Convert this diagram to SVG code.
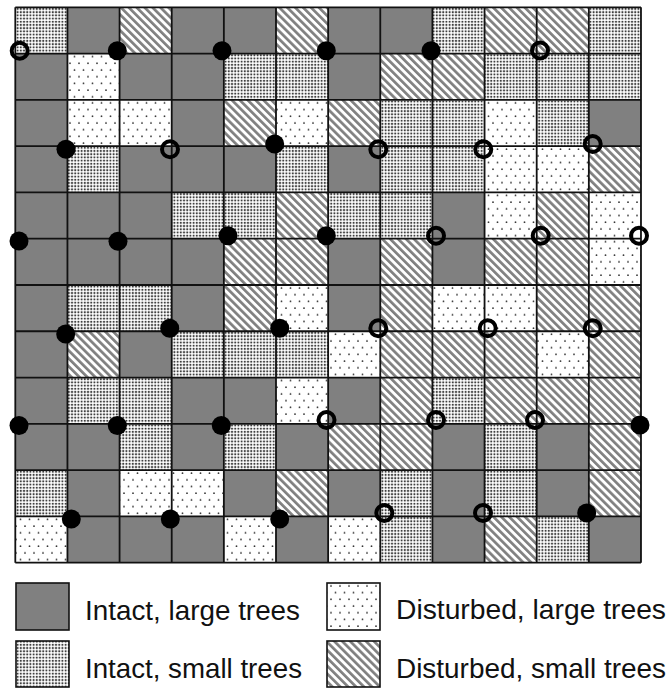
<svg xmlns="http://www.w3.org/2000/svg" width="668" height="689" viewBox="0 0 668 689">
<style>
.g{fill:#808080}
.s{fill:url(#ps)}
.d{fill:url(#pd)}
.h{fill:url(#ph)}
.grid{fill:none;stroke:#111;stroke-width:1.8}
.full{fill:#000}
.ring{fill:none;stroke:#000;stroke-width:4}
.lb{stroke:#111;stroke-width:1.6}
.lt{font-family:"Liberation Sans",Arial,sans-serif;font-size:27.5px;fill:#111}
</style>
<defs>
<pattern id="ps" width="3.2" height="3.2" patternUnits="userSpaceOnUse"><rect width="3.2" height="3.2" fill="#fff"/><circle cx="1.6" cy="1.6" r="1.1" fill="#404040"/></pattern>
<pattern id="pd" width="9" height="13.4" patternUnits="userSpaceOnUse"><rect width="9" height="13.4" fill="#fff"/><circle cx="2.5" cy="3" r="0.9" fill="#333"/><circle cx="7" cy="9.7" r="0.9" fill="#333"/></pattern>
<pattern id="ph" width="5.6" height="10" patternUnits="userSpaceOnUse" patternTransform="rotate(-45)"><rect width="5.6" height="10" fill="#fff"/><rect width="2.7" height="10" fill="#808080"/></pattern>
</defs>
<rect width="668" height="689" fill="#fff"/>
<g id="cells">
<g id="row0" transform="translate(0,7.3)">
<rect class="s" x="15.3" width="52.14" height="46.28"/><rect class="g" x="67.44" width="52.14" height="46.28"/><rect class="h" x="119.58" width="52.14" height="46.28"/><rect class="g" x="171.72" width="52.14" height="46.28"/><rect class="g" x="223.86" width="52.14" height="46.28"/><rect class="h" x="276" width="52.14" height="46.28"/><rect class="g" x="328.14" width="52.14" height="46.28"/><rect class="g" x="380.28" width="52.14" height="46.28"/><rect class="s" x="432.42" width="52.14" height="46.28"/><rect class="h" x="484.56" width="52.14" height="46.28"/><rect class="h" x="536.7" width="52.14" height="46.28"/><rect class="s" x="588.84" width="52.14" height="46.28"/>
</g>
<g id="row1" transform="translate(0,53.58)">
<rect class="g" x="15.3" width="52.14" height="46.28"/><rect class="d" x="67.44" width="52.14" height="46.28"/><rect class="g" x="119.58" width="52.14" height="46.28"/><rect class="g" x="171.72" width="52.14" height="46.28"/><rect class="s" x="223.86" width="52.14" height="46.28"/><rect class="s" x="276" width="52.14" height="46.28"/><rect class="g" x="328.14" width="52.14" height="46.28"/><rect class="h" x="380.28" width="52.14" height="46.28"/><rect class="h" x="432.42" width="52.14" height="46.28"/><rect class="s" x="484.56" width="52.14" height="46.28"/><rect class="s" x="536.7" width="52.14" height="46.28"/><rect class="s" x="588.84" width="52.14" height="46.28"/>
</g>
<g id="row2" transform="translate(0,99.86)">
<rect class="g" x="15.3" width="52.14" height="46.28"/><rect class="d" x="67.44" width="52.14" height="46.28"/><rect class="d" x="119.58" width="52.14" height="46.28"/><rect class="g" x="171.72" width="52.14" height="46.28"/><rect class="h" x="223.86" width="52.14" height="46.28"/><rect class="d" x="276" width="52.14" height="46.28"/><rect class="h" x="328.14" width="52.14" height="46.28"/><rect class="s" x="380.28" width="52.14" height="46.28"/><rect class="s" x="432.42" width="52.14" height="46.28"/><rect class="d" x="484.56" width="52.14" height="46.28"/><rect class="s" x="536.7" width="52.14" height="46.28"/><rect class="g" x="588.84" width="52.14" height="46.28"/>
</g>
<g id="row3" transform="translate(0,146.14)">
<rect class="g" x="15.3" width="52.14" height="46.28"/><rect class="s" x="67.44" width="52.14" height="46.28"/><rect class="g" x="119.58" width="52.14" height="46.28"/><rect class="g" x="171.72" width="52.14" height="46.28"/><rect class="g" x="223.86" width="52.14" height="46.28"/><rect class="s" x="276" width="52.14" height="46.28"/><rect class="g" x="328.14" width="52.14" height="46.28"/><rect class="s" x="380.28" width="52.14" height="46.28"/><rect class="s" x="432.42" width="52.14" height="46.28"/><rect class="d" x="484.56" width="52.14" height="46.28"/><rect class="d" x="536.7" width="52.14" height="46.28"/><rect class="h" x="588.84" width="52.14" height="46.28"/>
</g>
<g id="row4" transform="translate(0,192.42)">
<rect class="g" x="15.3" width="52.14" height="46.28"/><rect class="g" x="67.44" width="52.14" height="46.28"/><rect class="g" x="119.58" width="52.14" height="46.28"/><rect class="s" x="171.72" width="52.14" height="46.28"/><rect class="s" x="223.86" width="52.14" height="46.28"/><rect class="h" x="276" width="52.14" height="46.28"/><rect class="s" x="328.14" width="52.14" height="46.28"/><rect class="s" x="380.28" width="52.14" height="46.28"/><rect class="g" x="432.42" width="52.14" height="46.28"/><rect class="d" x="484.56" width="52.14" height="46.28"/><rect class="h" x="536.7" width="52.14" height="46.28"/><rect class="d" x="588.84" width="52.14" height="46.28"/>
</g>
<g id="row5" transform="translate(0,238.7)">
<rect class="g" x="15.3" width="52.14" height="46.28"/><rect class="g" x="67.44" width="52.14" height="46.28"/><rect class="g" x="119.58" width="52.14" height="46.28"/><rect class="g" x="171.72" width="52.14" height="46.28"/><rect class="h" x="223.86" width="52.14" height="46.28"/><rect class="h" x="276" width="52.14" height="46.28"/><rect class="g" x="328.14" width="52.14" height="46.28"/><rect class="h" x="380.28" width="52.14" height="46.28"/><rect class="g" x="432.42" width="52.14" height="46.28"/><rect class="h" x="484.56" width="52.14" height="46.28"/><rect class="h" x="536.7" width="52.14" height="46.28"/><rect class="d" x="588.84" width="52.14" height="46.28"/>
</g>
<g id="row6" transform="translate(0,284.98)">
<rect class="g" x="15.3" width="52.14" height="46.28"/><rect class="s" x="67.44" width="52.14" height="46.28"/><rect class="s" x="119.58" width="52.14" height="46.28"/><rect class="g" x="171.72" width="52.14" height="46.28"/><rect class="h" x="223.86" width="52.14" height="46.28"/><rect class="d" x="276" width="52.14" height="46.28"/><rect class="g" x="328.14" width="52.14" height="46.28"/><rect class="h" x="380.28" width="52.14" height="46.28"/><rect class="d" x="432.42" width="52.14" height="46.28"/><rect class="d" x="484.56" width="52.14" height="46.28"/><rect class="h" x="536.7" width="52.14" height="46.28"/><rect class="h" x="588.84" width="52.14" height="46.28"/>
</g>
<g id="row7" transform="translate(0,331.26)">
<rect class="g" x="15.3" width="52.14" height="46.28"/><rect class="h" x="67.44" width="52.14" height="46.28"/><rect class="g" x="119.58" width="52.14" height="46.28"/><rect class="s" x="171.72" width="52.14" height="46.28"/><rect class="s" x="223.86" width="52.14" height="46.28"/><rect class="s" x="276" width="52.14" height="46.28"/><rect class="d" x="328.14" width="52.14" height="46.28"/><rect class="h" x="380.28" width="52.14" height="46.28"/><rect class="h" x="432.42" width="52.14" height="46.28"/><rect class="h" x="484.56" width="52.14" height="46.28"/><rect class="d" x="536.7" width="52.14" height="46.28"/><rect class="h" x="588.84" width="52.14" height="46.28"/>
</g>
<g id="row8" transform="translate(0,377.54)">
<rect class="g" x="15.3" width="52.14" height="46.28"/><rect class="s" x="67.44" width="52.14" height="46.28"/><rect class="s" x="119.58" width="52.14" height="46.28"/><rect class="g" x="171.72" width="52.14" height="46.28"/><rect class="g" x="223.86" width="52.14" height="46.28"/><rect class="d" x="276" width="52.14" height="46.28"/><rect class="g" x="328.14" width="52.14" height="46.28"/><rect class="h" x="380.28" width="52.14" height="46.28"/><rect class="s" x="432.42" width="52.14" height="46.28"/><rect class="h" x="484.56" width="52.14" height="46.28"/><rect class="h" x="536.7" width="52.14" height="46.28"/><rect class="h" x="588.84" width="52.14" height="46.28"/>
</g>
<g id="row9" transform="translate(0,423.82)">
<rect class="g" x="15.3" width="52.14" height="46.28"/><rect class="g" x="67.44" width="52.14" height="46.28"/><rect class="s" x="119.58" width="52.14" height="46.28"/><rect class="g" x="171.72" width="52.14" height="46.28"/><rect class="s" x="223.86" width="52.14" height="46.28"/><rect class="g" x="276" width="52.14" height="46.28"/><rect class="h" x="328.14" width="52.14" height="46.28"/><rect class="h" x="380.28" width="52.14" height="46.28"/><rect class="g" x="432.42" width="52.14" height="46.28"/><rect class="s" x="484.56" width="52.14" height="46.28"/><rect class="g" x="536.7" width="52.14" height="46.28"/><rect class="h" x="588.84" width="52.14" height="46.28"/>
</g>
<g id="row10" transform="translate(0,470.1)">
<rect class="s" x="15.3" width="52.14" height="46.28"/><rect class="g" x="67.44" width="52.14" height="46.28"/><rect class="d" x="119.58" width="52.14" height="46.28"/><rect class="d" x="171.72" width="52.14" height="46.28"/><rect class="g" x="223.86" width="52.14" height="46.28"/><rect class="h" x="276" width="52.14" height="46.28"/><rect class="g" x="328.14" width="52.14" height="46.28"/><rect class="s" x="380.28" width="52.14" height="46.28"/><rect class="g" x="432.42" width="52.14" height="46.28"/><rect class="s" x="484.56" width="52.14" height="46.28"/><rect class="g" x="536.7" width="52.14" height="46.28"/><rect class="h" x="588.84" width="52.14" height="46.28"/>
</g>
<g id="row11" transform="translate(0,516.38)">
<rect class="d" x="15.3" width="52.14" height="46.28"/><rect class="g" x="67.44" width="52.14" height="46.28"/><rect class="g" x="119.58" width="52.14" height="46.28"/><rect class="g" x="171.72" width="52.14" height="46.28"/><rect class="d" x="223.86" width="52.14" height="46.28"/><rect class="g" x="276" width="52.14" height="46.28"/><rect class="d" x="328.14" width="52.14" height="46.28"/><rect class="s" x="380.28" width="52.14" height="46.28"/><rect class="g" x="432.42" width="52.14" height="46.28"/><rect class="h" x="484.56" width="52.14" height="46.28"/><rect class="s" x="536.7" width="52.14" height="46.28"/><rect class="g" x="588.84" width="52.14" height="46.28"/>
</g>
</g>
<g id="gridlines">
<path class="grid" d="M15.3 7.3V562.66M67.44 7.3V562.66M119.58 7.3V562.66M171.72 7.3V562.66M223.86 7.3V562.66M276 7.3V562.66M328.14 7.3V562.66M380.28 7.3V562.66M432.42 7.3V562.66M484.56 7.3V562.66M536.7 7.3V562.66M588.84 7.3V562.66M640.98 7.3V562.66M15.3 7.3H640.98M15.3 53.58H640.98M15.3 99.86H640.98M15.3 146.14H640.98M15.3 192.42H640.98M15.3 238.7H640.98M15.3 284.98H640.98M15.3 331.26H640.98M15.3 377.54H640.98M15.3 423.82H640.98M15.3 470.1H640.98M15.3 516.38H640.98M15.3 562.66H640.98"/>
</g>
<g id="points">
<circle class="ring" cx="19.7" cy="50.7" r="8"/>
<circle class="full" cx="117.3" cy="50.7" r="9.5"/>
<circle class="full" cx="222" cy="50.7" r="9.5"/>
<circle class="full" cx="326.3" cy="50.7" r="9.5"/>
<circle class="full" cx="431" cy="50.7" r="9.5"/>
<circle class="ring" cx="540" cy="50.5" r="8"/>
<circle class="full" cx="66" cy="149.3" r="9.5"/>
<circle class="ring" cx="170" cy="149.3" r="8"/>
<circle class="full" cx="274.7" cy="144" r="9.5"/>
<circle class="ring" cx="378.3" cy="149.3" r="8"/>
<circle class="ring" cx="483.3" cy="149.3" r="8"/>
<circle class="ring" cx="592.7" cy="144" r="8"/>
<circle class="full" cx="19" cy="241" r="9.5"/>
<circle class="full" cx="118" cy="241.3" r="9.5"/>
<circle class="full" cx="228" cy="235.7" r="9.5"/>
<circle class="full" cx="326.3" cy="235.7" r="9.5"/>
<circle class="ring" cx="436" cy="235.7" r="8"/>
<circle class="ring" cx="540.7" cy="235.7" r="8"/>
<circle class="ring" cx="639" cy="235.7" r="8"/>
<circle class="full" cx="65.7" cy="334" r="9.5"/>
<circle class="full" cx="169.7" cy="328.3" r="9.5"/>
<circle class="full" cx="279.7" cy="328.3" r="9.5"/>
<circle class="ring" cx="378.3" cy="328.3" r="8"/>
<circle class="ring" cx="487.7" cy="328.3" r="8"/>
<circle class="ring" cx="592.7" cy="328.3" r="8"/>
<circle class="full" cx="19" cy="425.5" r="9.5"/>
<circle class="full" cx="117.3" cy="425.5" r="9.5"/>
<circle class="full" cx="221.3" cy="425.5" r="9.5"/>
<circle class="ring" cx="326.5" cy="420" r="8"/>
<circle class="ring" cx="436" cy="420" r="8"/>
<circle class="ring" cx="535" cy="420" r="8"/>
<circle class="full" cx="640" cy="425" r="9.5"/>
<circle class="full" cx="71.3" cy="519" r="9.5"/>
<circle class="full" cx="170.3" cy="519" r="9.5"/>
<circle class="full" cx="279.7" cy="519" r="9.5"/>
<circle class="ring" cx="384.3" cy="513" r="8"/>
<circle class="ring" cx="483" cy="513" r="8"/>
<circle class="full" cx="586.7" cy="513" r="9.5"/>
</g>
<g id="legend">
<g id="leg-intact-large"><rect class="g lb" x="16" y="583" width="53" height="47"/><text class="lt" x="85" y="620" textLength="215" lengthAdjust="spacingAndGlyphs">Intact, large trees</text></g>
<g id="leg-intact-small"><rect class="s lb" x="16" y="641" width="53" height="46"/><text class="lt" x="85" y="678" textLength="217" lengthAdjust="spacingAndGlyphs">Intact, small trees</text></g>
<g id="leg-disturbed-large"><rect class="d lb" x="327" y="583" width="53" height="47"/><text class="lt" x="396" y="619" textLength="270" lengthAdjust="spacingAndGlyphs">Disturbed, large trees</text></g>
<g id="leg-disturbed-small"><rect class="h lb" x="327" y="641" width="53" height="46"/><text class="lt" x="396" y="677.5" textLength="270" lengthAdjust="spacingAndGlyphs">Disturbed, small trees</text></g>
</g>
</svg>
